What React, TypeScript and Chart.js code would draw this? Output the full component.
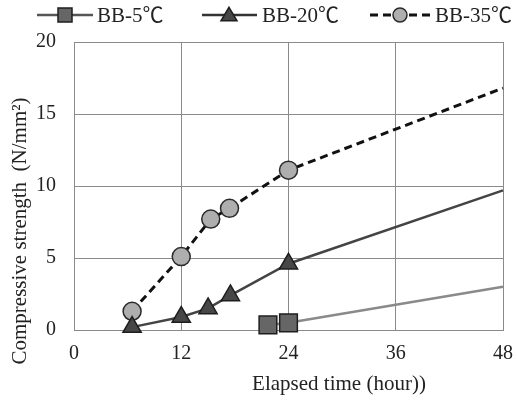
import React, { useEffect, useRef } from "react";
import { Chart, registerables } from "chart.js";

Chart.register(...registerables);

// ---- data ----
const seriesNames = ["BB-5℃", "BB-20℃", "BB-35℃"];
const hours5 = [21.7, 24, 48];
const strength5 = [0.35, 0.5, 3.0];
const hours20 = [6.5, 12, 15, 17.5, 24, 48];
const strength20 = [0.2, 0.9, 1.5, 2.4, 4.6, 9.7];
const hours35 = [6.5, 12, 15.3, 17.4, 24, 48];
const strength35 = [1.3, 5.1, 7.7, 8.45, 11.1, 16.8];
const xTickValues = [0, 12, 24, 36, 48];
const yTickValues = [0, 5, 10, 15, 20];
const xTitle = "Elapsed time (hour))";
const yTitle = "Compressive strength  (N/mm²)";

const FONT = "'Liberation Serif', 'Noto Sans CJK JP', 'Times New Roman', serif";

const toPoints = (xs: number[], ys: number[]) => xs.map((x, i) => ({ x, y: ys[i] }));
const radii = (n: number, r: number) => Array.from({ length: n }, (_, i) => (i === n - 1 ? 0 : r));

const styles = [
  { marker: "rect", fill: "#666666", stroke: "#1e1e1e", line: "#8a8a8a", legendLine: "#555555", dash: [] as number[], width: 2.5 },
  { marker: "triangle", fill: "#474747", stroke: "#1e1e1e", line: "#444444", legendLine: "#333333", dash: [] as number[], width: 2.5 },
  { marker: "circle", fill: "#aeaeae", stroke: "#2a2a2a", line: "#111111", legendLine: "#111111", dash: [8, 5], width: 3 },
];

function drawMarker(ctx: CanvasRenderingContext2D, kind: string, x: number, y: number, r: number, fill: string, stroke: string) {
  ctx.save();
  ctx.setLineDash([]);
  ctx.fillStyle = fill;
  ctx.strokeStyle = stroke;
  ctx.lineWidth = 1.5;
  ctx.beginPath();
  if (kind === "rect") {
    ctx.rect(x - r, y - r, 2 * r, 2 * r);
  } else if (kind === "triangle") {
    const h = r * 1.6;
    ctx.moveTo(x, y - h * 0.6);
    ctx.lineTo(x + r, y + h * 0.45);
    ctx.lineTo(x - r, y + h * 0.45);
    ctx.closePath();
  } else {
    ctx.arc(x, y, r, 0, Math.PI * 2);
  }
  ctx.fill();
  ctx.stroke();
  ctx.restore();
}

const legendLayout = [
  { x0: 37, x1: 93, mx: 65, tx: 97 },
  { x0: 202, x1: 257, mx: 229, tx: 262 },
  { x0: 370, x1: 430, mx: 400, tx: 435 },
];

const overlayPlugin = {
  id: "overlay",
  afterDraw(chart: any) {
    const ctx: CanvasRenderingContext2D = chart.ctx;
    ctx.save();
    // legend
    const ly = 15;
    seriesNames.forEach((name, i) => {
      const s = styles[i];
      const L = legendLayout[i];
      ctx.save();
      ctx.strokeStyle = s.legendLine;
      ctx.lineWidth = s.width;
      ctx.setLineDash(s.dash);
      ctx.beginPath();
      ctx.moveTo(L.x0, ly);
      ctx.lineTo(L.x1, ly);
      ctx.stroke();
      ctx.restore();
      drawMarker(ctx, s.marker, L.mx, ly, s.marker === "triangle" ? 8 : 7, s.fill, s.stroke);
      ctx.fillStyle = "#222222";
      ctx.font = `21px ${FONT}`;
      ctx.textAlign = "left";
      ctx.textBaseline = "middle";
      ctx.fillText(name, L.tx, ly + 1);
    });
    // axis titles
    ctx.fillStyle = "#222222";
    ctx.font = `21px ${FONT}`;
    ctx.textAlign = "center";
    ctx.textBaseline = "middle";
    ctx.fillText(xTitle, 339, 384);
    ctx.save();
    ctx.translate(20, 231);
    ctx.rotate(-Math.PI / 2);
    ctx.fillText(yTitle, 0, 0);
    ctx.restore();
    ctx.restore();
  },
};

export default function App() {
  const ref = useRef<HTMLCanvasElement>(null);
  useEffect(() => {
    document.body.style.margin = "0";
    const mk = (i: number, xs: number[], ys: number[], r: number) => ({
      label: seriesNames[i],
      data: toPoints(xs, ys),
      borderColor: styles[i].line,
      borderWidth: styles[i].width,
      borderDash: styles[i].dash,
      pointStyle: styles[i].marker,
      pointRadius: radii(xs.length, r),
      pointHoverRadius: radii(xs.length, r),
      pointBackgroundColor: styles[i].fill,
      pointBorderColor: styles[i].stroke,
      pointBorderWidth: 1.5,
      tension: 0,
      clip: false as any,
      fill: false,
    });
    const chart = new Chart(ref.current!, {
      type: "line",
      data: {
        datasets: [
          mk(0, hours5, strength5, 12.5),
          mk(1, hours20, strength20, 10.5),
          mk(2, hours35, strength35, 9),
        ],
      },
      options: {
        responsive: false,
        animation: false,
        devicePixelRatio: 1,
        layout: { padding: { top: 42, right: 0, left: 0, bottom: 0 } },
        plugins: { legend: { display: false }, tooltip: { enabled: false } },
        scales: {
          x: {
            type: "linear",
            min: 0,
            max: 48,
            afterBuildTicks: (s: any) => {
              s.ticks = xTickValues.map((v) => ({ value: v }));
            },
            afterFit: (s: any) => {
              s.height = 74;
              s.paddingLeft = 0;
              s.paddingRight = 11;
            },
            ticks: { color: "#222222", font: { family: FONT, size: 20 }, padding: 0 },
            grid: { color: "#8a8a8a", lineWidth: 1, drawTicks: true, tickLength: 12, tickColor: "rgba(0,0,0,0)" },
            border: { color: "#8a8a8a", width: 1 },
          },
          y: {
            type: "linear",
            min: 0,
            max: 20,
            afterBuildTicks: (s: any) => {
              s.ticks = yTickValues.map((v) => ({ value: v }));
            },
            afterFit: (s: any) => {
              s.width = 74;
              s.paddingTop = 0;
              s.paddingBottom = 0;
            },
            ticks: { color: "#222222", font: { family: FONT, size: 20 }, padding: 18 },
            grid: { color: "#8a8a8a", lineWidth: 1, drawTicks: false },
            border: { color: "#8a8a8a", width: 1 },
          },
        },
      },
      plugins: [overlayPlugin],
    } as any);
    return () => chart.destroy();
  }, []);
  return (
    <canvas ref={ref} width={517} height={404} style={{ display: "block", width: 517, height: 404 }} />
  );
}
